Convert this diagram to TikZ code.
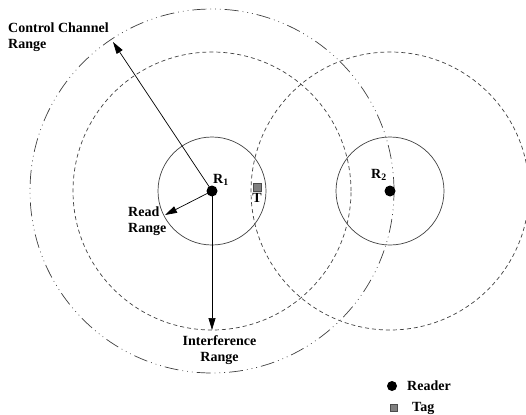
\documentclass[tikz,border=0pt]{standalone}
\usepackage{fontspec}
\setmainfont{Liberation Serif}
\usetikzlibrary{arrows.meta}

\tikzset{
  lbl/.style={font=\bfseries\fontsize{14}{16}\selectfont, inner sep=0pt},
  reader/.style={circle, fill=black, inner sep=0pt, minimum size=11pt},
  tag/.style={draw=black!70, fill=black!50, inner sep=0pt, minimum size=8pt},
  readrange/.style={draw=black!75, line width=0.7pt},
  intrange/.style={draw=black!75, line width=0.7pt, dash pattern=on 4pt off 3pt},
  ctrlrange/.style={draw=black!75, line width=0.7pt,
    dash pattern=on 14pt off 4pt on 0.8pt off 4pt on 0.8pt off 4pt on 0.8pt off 4pt},
  rangearrow/.style={-{Triangle[length=12pt,width=7pt]}, line width=0.7pt}
}

\begin{document}
\begin{tikzpicture}[x=1pt,y=-1pt]
  \useasboundingbox (0,0) rectangle (526,414);
  % ranges
  \draw[ctrlrange] (212,191) circle[radius=182pt];
  \draw[intrange] (212,191) circle[radius=139pt];
  \draw[intrange] (390,191) circle[radius=139pt];
  \draw[readrange] (212,191) circle[radius=54pt];
  \draw[readrange] (390,191) circle[radius=54pt];
  % readers and tag
  \node[reader] (r1) at (212,191) {};
  \node[reader] (r2) at (390,191) {};
  \node[tag] (t) at (257,187) {};
  \node[lbl, anchor=base west] (r1lbl) at (213,183) {R\textsubscript{1}};
  \node[lbl, anchor=base west] (r2lbl) at (371,178) {R\textsubscript{2}};
  \node[lbl, anchor=north] (tlbl) at ([yshift=-2pt]t.south) {T};
  % range arrows
  \coordinate (ccend) at (113,42);
  \coordinate (rdend) at (165,215);
  \coordinate (ifend) at (212,330);
  \draw[rangearrow] (r1.center) -- (ccend);
  \draw[rangearrow] (r1.center) -- (rdend);
  \draw[rangearrow] (r1.center) -- (ifend);
  \node[lbl, anchor=base west, align=left] (cclbl) at (8,49) {Control Channel\\Range};
  \node[lbl, anchor=base west, align=left] (rdlbl) at (128,232) {Read\\Range};
  \node[lbl, anchor=base, align=center] (iflbl) at (219.5,361) {Interference\\Range};
  % legend
  \node[reader, minimum size=10pt] (legr) at (392,386) {};
  \node[lbl, anchor=base west] (legrlbl) at (407,390) {Reader};
  \node[tag, minimum size=7pt] (legt) at (394,408) {};
  \node[lbl, anchor=base west] (legtlbl) at (412,411) {Tag};
\end{tikzpicture}
\end{document}
